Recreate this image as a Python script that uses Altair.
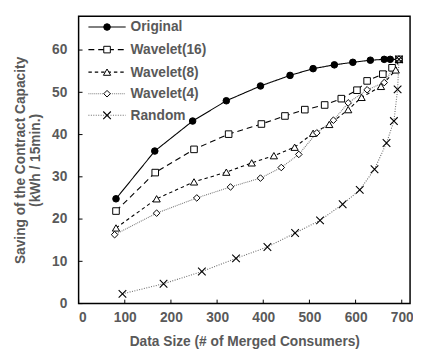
import altair as alt
import pandas as pd

# ---- data ----
series_names = ["Original", "Wavelet(16)", "Wavelet(8)", "Wavelet(4)", "Random"]

x_original = [81, 165, 247, 320, 394, 458, 508, 554, 594, 632, 662, 675, 694]
y_original = [24.8, 36.1, 43.2, 48.0, 51.5, 54.0, 55.6, 56.5, 57.1, 57.6, 57.8, 57.8, 57.8]

x_w16 = [81, 166, 250, 325, 396, 447, 490, 533, 569, 603, 625, 659, 679, 694]
y_w16 = [21.9, 31.0, 36.5, 40.1, 42.5, 44.4, 45.9, 47.0, 48.5, 50.5, 52.7, 54.3, 55.8, 57.8]

x_w8 = [81, 169, 250, 320, 375, 423, 468, 508, 543, 584, 613, 655, 687, 694]
y_w8 = [17.9, 24.8, 28.8, 31.1, 33.3, 35.0, 37.0, 40.3, 42.4, 45.9, 48.8, 51.4, 55.3, 57.8]

x_w4 = [78, 169, 256, 329, 394, 439, 477, 516, 552, 584, 625, 662, 694]
y_w4 = [16.3, 21.4, 25.0, 27.6, 29.7, 32.2, 35.3, 40.4, 43.4, 47.5, 50.6, 52.3, 57.8]

x_rand = [95, 184, 267, 341, 409, 469, 523, 572, 609, 641, 667, 683, 691, 694]
y_rand = [2.3, 4.7, 7.6, 10.7, 13.4, 16.7, 19.7, 23.5, 26.9, 31.8, 38.0, 43.2, 50.7, 57.8]

x_ticks = [0, 100, 200, 300, 400, 500, 600, 700]
y_ticks = [0, 10, 20, 30, 40, 50, 60]

x_title = "Data Size (# of Merged Consumers)"
y_title = ["Saving of the Contract Capacity", "(kWh / 15min.)"]

# ---- styling ----
FONT = "Liberation Sans"
GRAY = "#595959"
W, H = 338, 293
CROSS = "M-1,-1L1,1M-1,1L1,-1"

xs = alt.Scale(domain=[0, 718], nice=False, zero=False)
ys = alt.Scale(domain=[0, 68], nice=False, zero=False)

x_axis = alt.Axis(values=x_ticks, tickSize=0, domain=False, grid=False,
                  labelPadding=7, title=x_title, titlePadding=11)
y_axis = alt.Axis(values=y_ticks, tickSize=0, domain=False, grid=False,
                  labelPadding=12, title=y_title, titlePadding=9)

X = alt.X("x:Q", scale=xs, axis=x_axis)
Y = alt.Y("y:Q", scale=ys, axis=y_axis)

styles = {
    "Original":    dict(xs=x_original, ys=y_original, dash=[1, 0], lc="black",
                        shape="circle", size=45, fill="black"),
    "Wavelet(16)": dict(xs=x_w16, ys=y_w16, dash=[6, 4], lc="black",
                        shape="square", size=45, fill="white"),
    "Wavelet(8)":  dict(xs=x_w8, ys=y_w8, dash=[3.5, 3], lc="black",
                        shape="triangle-up", size=55, fill="white"),
    "Wavelet(4)":  dict(xs=x_w4, ys=y_w4, dash=[1, 1], lc="#7a7a7a",
                        shape="diamond", size=45, fill="white"),
    "Random":      dict(xs=x_rand, ys=y_rand, dash=[1, 1.5], lc="#6a6a6a",
                        shape=CROSS, size=60, fill="none"),
}


def point_mark(chart, s):
    if s["fill"] == "none":
        return chart.mark_point(shape=s["shape"], size=s["size"], filled=False,
                                stroke="black", strokeWidth=1.1, opacity=1)
    return chart.mark_point(shape=s["shape"], size=s["size"], filled=True,
                            fill=s["fill"], stroke="black", strokeWidth=1,
                            opacity=1, fillOpacity=1)


layers = []
for name in series_names:
    s = styles[name]
    df = pd.DataFrame({"x": s["xs"], "y": s["ys"]})
    layers.append(alt.Chart(df).mark_line(color=s["lc"], strokeDash=s["dash"],
                                          strokeWidth=1.1).encode(x=X, y=Y))

for name in series_names:
    s = styles[name]
    df = pd.DataFrame({"x": s["xs"], "y": s["ys"]})
    layers.append(point_mark(alt.Chart(df), s).encode(x=X, y=Y))

# inward tick marks
xt = pd.DataFrame({"x": x_ticks})
yt = pd.DataFrame({"y": y_ticks})
layers.append(alt.Chart(xt).mark_rule(color="black", strokeWidth=1).encode(
    x=X, y=alt.value(H), y2=alt.value(H - 4)))
layers.append(alt.Chart(yt).mark_rule(color="black", strokeWidth=1).encode(
    y=Y, x=alt.value(0), x2=alt.value(4)))

# legend (inside, top-left)
leg_rows = [11, 34, 57, 79, 101]
one = pd.DataFrame({"a": [0]})
for name, yy in zip(series_names, leg_rows):
    s = styles[name]
    layers.append(alt.Chart(one).mark_rule(color=s["lc"], strokeDash=s["dash"],
                                           strokeWidth=1.1).encode(
        x=alt.value(10), x2=alt.value(48), y=alt.value(yy)))
    layers.append(point_mark(alt.Chart(one), s).encode(x=alt.value(29), y=alt.value(yy)))
    layers.append(alt.Chart(pd.DataFrame({"t": [name]})).mark_text(
        align="left", baseline="middle", font=FONT, fontSize=14,
        fontWeight="bold", color=GRAY).encode(
        x=alt.value(53), y=alt.value(yy + 0.5), text="t:N"))

chart = alt.layer(*layers).properties(
    width=W, height=H,
    autosize=alt.AutoSizeParams(type="none"),
    padding={"left": 72, "top": 5, "right": 3, "bottom": 48},
).configure_view(
    stroke="black", strokeWidth=1.5
).configure_axis(
    labelFont=FONT, labelFontSize=14, labelFontWeight="bold", labelColor=GRAY,
    titleFont=FONT, titleFontSize=14, titleFontWeight="bold", titleColor=GRAY,
)

chart.save("out.html", embed_options={"renderer": "svg", "actions": False})
